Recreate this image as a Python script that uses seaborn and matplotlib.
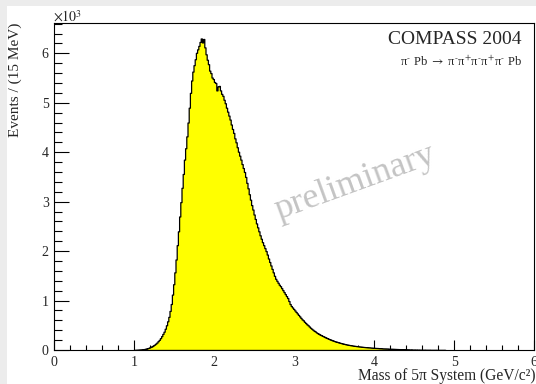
import numpy as np
import pandas as pd
import matplotlib
matplotlib.use("Agg")
import matplotlib.pyplot as plt
import seaborn as sns
from matplotlib.ticker import FixedLocator, MultipleLocator, FixedFormatter
from matplotlib.patches import Rectangle

# ---------------- data (events per 15 MeV bin) ----------------
first_bin_low = 0.990   # GeV/c^2, lower edge of first listed bin
bin_width = 0.015       # GeV/c^2 (15 MeV)
counts = [
    0, 2, 3, 4, 6, 8, 10, 13, 17, 22,                       # 0.990 - 1.125
    27, 35, 42, 52, 64, 76, 92, 108, 128, 150,              # 1.140 - 1.275
    178, 205, 240, 280, 325, 370, 430, 500, 580, 670,       # 1.290 - 1.425
    790, 930, 1120, 1330, 1570, 1830, 2120, 2400, 2700, 2990,   # 1.440 - 1.575
    3280, 3560, 3850, 4080, 4320, 4600, 4900, 5200, 5450, 5630, # 1.590 - 1.725
    5760, 5880, 6010, 6080, 6150, 6230, 6300, 6220, 6290, 6120, # 1.740 - 1.875
    5980, 5870, 5780, 5650, 5600, 5510, 5480, 5420, 5400, 5250, # 1.890 - 2.025
    5330, 5340, 5250, 5180, 5140, 5060, 4990, 4900, 4820, 4740, # 2.040 - 2.175
    4660, 4560, 4470, 4390, 4280, 4200, 4100, 4010, 3930, 3850, # 2.190 - 2.325
    3760, 3680, 3600, 3500, 3380, 3270, 3150, 3040, 2930, 2840, # 2.340 - 2.475
    2740, 2650, 2560, 2480, 2400, 2320, 2250, 2180, 2120, 2060, # 2.490 - 2.625
    2000, 1930, 1850, 1780, 1710, 1640, 1570, 1500, 1440, 1400, # 2.640 - 2.775
    1360, 1320, 1290, 1250, 1210, 1170, 1130, 1090, 1050, 990,  # 2.790 - 2.925
    930, 890, 860, 830, 800, 770, 740, 710, 680, 650,           # 2.940 - 3.075
    620, 600, 570, 545, 520, 500, 475, 450, 430, 410,           # 3.090 - 3.225
    390, 375, 355, 340, 325, 310, 300, 285, 275, 262,           # 3.240 - 3.375
    250, 240, 228, 218, 208, 198, 190, 180, 172, 165,           # 3.390 - 3.525
    158, 150, 143, 137, 130, 124, 118, 113, 108, 103,           # 3.540 - 3.675
    99, 95, 91, 87, 83, 80, 77, 74, 71, 68,                     # 3.690 - 3.825
    65, 62, 60, 58, 56, 54, 52, 50, 48, 46,                     # 3.840 - 3.975
    44, 42, 41, 40, 38, 36, 35, 33, 32, 31,                     # 3.990 - 4.125
    30, 29, 27, 26, 25, 24, 23, 22, 21, 20,                     # 4.140 - 4.275
    19, 18, 17, 16, 15, 14, 13, 12, 11, 10,                     # 4.290 - 4.425
    10, 9, 8, 8, 7, 7, 6, 6, 5, 5,                              # 4.440 - 4.575
    4, 4, 4, 3, 3, 3, 3, 2, 2, 2,                               # 4.590 - 4.725
    2, 2, 1, 1, 1, 1, 1, 1, 1, 0,                               # 4.740 - 4.875
]

x_ticks = [0, 1, 2, 3, 4, 5, 6]
y_ticks_thousands = [0, 1, 2, 3, 4, 5, 6]

edges = first_bin_low + bin_width * np.arange(len(counts) + 1)
centers = edges[:-1] + bin_width / 2
df = pd.DataFrame({"mass": centers, "events": counts})

# ---------------- style ----------------
sns.set_style("ticks")
plt.rcParams["font.family"] = ["Liberation Serif", "DejaVu Serif"]
plt.rcParams["mathtext.fontset"] = "stix"

W, H = 536, 384
fig = plt.figure(figsize=(W / 100, H / 100), dpi=100, facecolor="#ececec")
fig.patches.append(Rectangle((7 / W, 0), 1, 1 - 6 / H, transform=fig.transFigure,
                             facecolor="white", edgecolor="none", zorder=-10))

x0, x1 = 54.3, 534.3
y0, y1 = 350.0, 22.7
ax = fig.add_axes([x0 / W, 1 - y0 / H, (x1 - x0) / W, (y0 - y1) / H])
ax.set_facecolor("white")

sns.histplot(data=df, x="mass", weights="events", bins=edges.tolist(), element="step",
             fill=True, color="#ffff00", edgecolor="black", alpha=1,
             linewidth=0.9, ax=ax)

ax.set_xlim(0, 6)
ax.set_ylim(0, 6619)
ax.set_xlabel("")
ax.set_ylabel("")

ax.xaxis.set_major_locator(FixedLocator(x_ticks))
ax.xaxis.set_major_formatter(FixedFormatter([str(v) for v in x_ticks]))
ax.xaxis.set_minor_locator(MultipleLocator(0.2))
ax.yaxis.set_major_locator(FixedLocator([v * 1000 for v in y_ticks_thousands]))
ax.yaxis.set_major_formatter(FixedFormatter([str(v) for v in y_ticks_thousands]))
ax.yaxis.set_minor_locator(MultipleLocator(200))

ax.tick_params(axis="x", which="major", direction="in", length=7.2, width=0.8,
               labelsize=10, pad=4, top=False, color="black")
ax.tick_params(axis="x", which="minor", direction="in", length=3.6, width=0.8,
               top=False, color="black")
ax.tick_params(axis="y", which="major", direction="in", length=10.5, width=0.8,
               labelsize=10, pad=4, right=False, color="black")
ax.tick_params(axis="y", which="minor", direction="in", length=5.4, width=0.8,
               right=False, color="black")
for s in ax.spines.values():
    s.set_color("black")
    s.set_linewidth(0.8)

# ---------------- texts ----------------
fig.text(53 / W, 1 - 22 / H, r"$\times10^{3}$", ha="left", va="baseline", fontsize=10)
fig.text(15 / W, 1 - 23 / H, "Events / (15 MeV)", rotation=90, ha="center",
         va="top", fontsize=11)
fig.text(535 / W, 1 - 380 / H, "Mass of 5π System (GeV/c²)", ha="right",
         va="baseline", fontsize=11.2)
fig.text(521.7 / W, 1 - 44 / H, "COMPASS 2004", ha="right", va="baseline", fontsize=14)
fig.text(521.7 / W, 1 - 66 / H,
         r"π$^{\text{-}}$ Pb $\rightarrow$ π$^{\text{-}}$π$^{+}$π$^{\text{-}}$π$^{+}$π$^{\text{-}}$ Pb",
         ha="right", va="baseline", fontsize=9)
fig.text(355 / W, 1 - 183 / H, "preliminary", rotation=20, rotation_mode="anchor",
         ha="center", va="center", fontsize=26, color="#c4c4c4")

fig.savefig("out.png", dpi=100, facecolor=fig.get_facecolor())
